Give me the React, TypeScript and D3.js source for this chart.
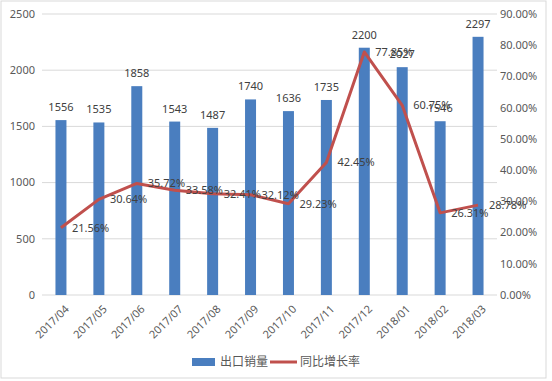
import React from "react";
import * as d3 from "d3";

const categories = ["2017/04","2017/05","2017/06","2017/07","2017/08","2017/09","2017/10","2017/11","2017/12","2018/01","2018/02","2018/03"];
const exportVolume = [1556,1535,1858,1543,1487,1740,1636,1735,2200,2027,1546,2297];
const growthRate = [21.56,30.64,35.72,33.58,32.41,32.12,29.23,42.45,77.85,60.75,26.31,28.78];
const leftTicks = [0,500,1000,1500,2000,2500];
const rightTicks = [0,10,20,30,40,50,60,70,80,90];
const seriesNames = ["出口销量","同比增长率"];

const W = 552, H = 381;
const plotL = 42, plotR = 497, plotT = 14, plotB = 295;
const FONT = "'Noto Sans', 'Noto Sans CJK SC', sans-serif";
const BLUE = "#4a7ebf";
const RED = "#c0504d";
const TXT = "#595959";

export default function App() {
  const x = d3.scaleBand<string>().domain(categories).range([plotL, plotR]).paddingInner(0.71).paddingOuter(0.355);
  const yL = d3.scaleLinear().domain([0, 2500]).range([plotB, plotT]);
  const yR = d3.scaleLinear().domain([0, 90]).range([plotB, plotT]);
  const cx = (c: string) => (x(c) as number) + x.bandwidth() / 2;
  const line = d3.line<number>().x((_, i) => cx(categories[i])).y(d => yR(d));
  return (
    <svg width={W} height={H} style={{ position: "absolute", left: 0, top: 0, background: "#fff" }} fontFamily={FONT}>
      <rect x={1} y={1} width={545} height={377} fill="#fff" stroke="#d9d9d9" strokeWidth={1} />
      {leftTicks.map(t => (
        <g key={t}>
          <line x1={plotL} x2={plotR} y1={yL(t)} y2={yL(t)} stroke="#d9d9d9" strokeWidth={1} />
          <text x={35} y={yL(t)} dy="0.35em" textAnchor="end" fontSize={11} fill={TXT}>{t}</text>
        </g>
      ))}
      {rightTicks.map(t => (
        <text key={t} x={500} y={yR(t)} dy="0.35em" textAnchor="start" fontSize={11} fill={TXT}>{t.toFixed(2) + "%"}</text>
      ))}
      {categories.map((c, i) => (
        <g key={c}>
          <rect x={x(c)} y={yL(exportVolume[i])} width={x.bandwidth()} height={plotB - yL(exportVolume[i])} fill={BLUE} />
          <text x={cx(c)} y={yL(exportVolume[i]) - 9} textAnchor="middle" fontSize={11} fill="#404040">{exportVolume[i]}</text>
          <text transform={`translate(${cx(c) + 6},${plotB + 12}) rotate(-45)`} textAnchor="end" fontSize={11} fill={TXT} dy="0.35em">{c}</text>
        </g>
      ))}
      <path d={line(growthRate) || ""} fill="none" stroke={RED} strokeWidth={3} strokeLinejoin="round" />
      {categories.map((c, i) => (
        <text key={"g" + c} x={cx(c) + 11} y={yR(growthRate[i])} dy="0.35em" fontSize={11} fill="#404040">{growthRate[i].toFixed(2) + "%"}</text>
      ))}
      <rect x={192} y={358} width={23} height={8} fill={BLUE} />
      <text x={220} y={362} dy="0.35em" fontSize={12} fill={TXT}>{seriesNames[0]}</text>
      <line x1={270} x2={297} y1={362} y2={362} stroke={RED} strokeWidth={3} />
      <text x={300} y={362} dy="0.35em" fontSize={12} fill={TXT}>{seriesNames[1]}</text>
    </svg>
  );
}
